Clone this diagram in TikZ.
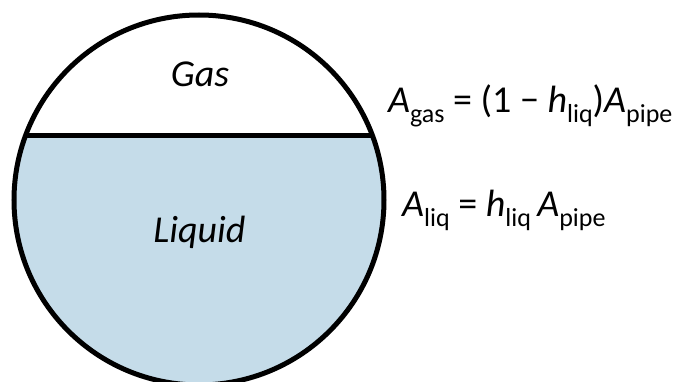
\documentclass[tikz,border=0pt]{standalone}
\usepackage{fontspec}
\setmainfont{Carlito}
\definecolor{liquidblue}{RGB}{197,220,233}
\newcommand{\mysub}[1]{\raisebox{-0.24em}{\fontsize{26}{26}\selectfont #1}}
\begin{document}
\begin{tikzpicture}[x=1pt,y=-1pt,
  pipeline/.style={line width=5pt},
  label/.style={font=\fontsize{38}{38}\selectfont\itshape, inner sep=0pt},
  eqn/.style={font=\fontsize{38}{38}\selectfont, inner sep=0pt, anchor=base west}]
\useasboundingbox (0,0) rectangle (673,382);
\coordinate (c) at (199,200);
\begin{scope}
  \clip (c) circle (185);
  \fill[liquidblue] (0,136) rectangle (400,400);
\end{scope}
\draw[pipeline] (c) circle (185);
\coordinate (l) at (25.4,136);
\coordinate (r) at (372.6,136);
\draw[pipeline] (l) -- (r);
\node[label, anchor=base] (gas) at (200,87) {Gas};
\node[label, anchor=base] (liq) at (199.5,243) {Liquid};
\node[eqn] (eq1) at (388,113) {\textit{A}\mysub{gas} = (1 − \textit{h}\mysub{liq})\textit{A}\mysub{pipe}};
\node[eqn] (eq2) at (402,217) {\textit{A}\mysub{liq} = \textit{h}\mysub{liq}\,\textit{A}\mysub{pipe}};
\end{tikzpicture}
\end{document}
